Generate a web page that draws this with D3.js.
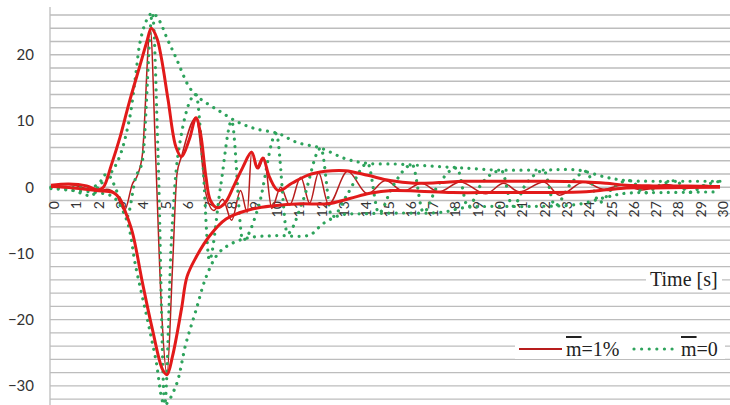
<!DOCTYPE html>
<html>
<head>
<meta charset="utf-8">
<script src="https://cdn.jsdelivr.net/npm/d3@7"></script>
<style>
  html, body { margin: 0; padding: 0; background: #fff; }
  svg { display: block; }
</style>
</head>
<body>
<svg id="chart" width="730" height="405"></svg>
<script>
// ---------- DATA (time [s], response) ----------
const xTickLabels = [0,1,2,3,4,5,6,7,8,9,10,11,12,13,14,15,16,17,18,19,20,21,22,23,24,25,26,27,28,29,30];
const yTickLabels = [20,10,0,-10,-20,-30];
const legendLabels = ["1%", "0"];

// m̄ = 1% : upper envelope
const redUpper = [[0,0.3],[0.8,0.5],[1.6,0.2],[2.1,-0.4],[2.35,0],[2.7,3.3],[3.1,7.6],[3.5,12.7],[4.0,18.5],[4.3,22],[4.5,24],[4.75,22.5],[4.95,19.5],[5.25,13.2],[5.6,6.1],[5.85,4.6],[6.2,7.2],[6.5,10.5],[6.7,8.2],[6.95,1.5],[7.15,-2],[7.45,-3.1],[7.8,-2.4],[8.2,0.2],[8.6,3],[9.0,5.3],[9.25,2.9],[9.5,4.4],[9.8,1.5],[10.2,-0.5],[10.8,0.6],[11.5,1.8],[12.3,2.4],[13.2,2.5],[14.2,1.8],[15.2,1.0],[16.3,0.6],[17.4,0.7],[18.5,0.9],[20,0.9],[22,0.9],[24,0.8],[24.9,0.6],[25.8,0.3],[27,0.2],[28.5,0.2],[30,0.1]];
// m̄ = 1% : lower envelope
const redLower = [[0,0.1],[1,-0.1],[2,-0.5],[2.8,-0.8],[3.1,-1.8],[3.3,-3.4],[3.65,-6.8],[4.1,-14.4],[4.55,-21.5],[5.0,-27.5],[5.2,-28.3],[5.45,-25.5],[5.85,-18.4],[6.1,-13.5],[6.5,-10.6],[7.1,-7.4],[7.85,-4.8],[8.9,-3.4],[10,-2.8],[11.2,-2.5],[12.4,-2.5],[13.4,-1.7],[14.3,-0.9],[15.3,-0.5],[16.5,-0.6],[18,-0.8],[20,-0.8],[22,-0.8],[24,-0.7],[24.9,-0.4],[25.8,-0.1],[27,-0.1],[30,0]];
// m̄ = 1% : time history
const redHistory = [[0,0.3],[0.8,0.4],[1.6,-0.2],[2.2,-0.5],[2.5,-0.3],[2.9,-1],[3.3,-3.5],[3.65,0.5],[3.9,2],[4.1,5],[4.45,24],[4.7,4],[4.95,-18],[5.2,-28.3],[5.45,-12],[5.65,2],[5.85,4.6],[6.5,10.5],[6.95,-1],[7.3,-3.5],[7.7,-1.8],[8.1,-5],[8.5,-0.5],[8.8,-3.8],[9.0,5.3],[9.3,2.8],[9.55,4.5],[9.9,-3.2],[10.3,0],[10.7,-2.7],[11.2,1.5],[11.6,-2.4],[12.0,2.2],[12.45,-2.6],[13.3,2.4],[14.2,-1],[15.0,1.0],[15.8,-0.6],[16.6,0.6],[17.4,-0.7],[18.35,0.8],[19.5,-1.0],[20.3,0.6],[21.0,-0.7],[22.1,0.8],[22.8,-1.2],[23.9,0.8],[24.8,-0.3],[25.6,0.3],[26.5,-0.4],[27.6,0.4],[28.5,-0.2],[29.3,0.3],[30,0]];

// m̄ = 0 : upper envelope
const greenUpper = [[0,0],[1,0],[2,0.2],[2.4,1],[3,4],[3.5,10],[3.8,17],[4.0,22],[4.3,25.3],[4.55,26.3],[4.85,25.2],[5.2,22.5],[5.6,19.6],[6.2,15.1],[6.6,13.6],[7.5,11.6],[8.4,9.8],[9.2,8.8],[10.2,8.1],[11,6.8],[12.1,5.9],[13.2,4.3],[14.2,3.6],[15.5,3.5],[16.5,3.3],[17.5,3.1],[18.5,2.9],[20,2.6],[22,2.6],[23.6,2.6],[24.9,1.5],[25.8,1.0],[27,0.9],[28.5,0.9],[30,0.9]];
// m̄ = 0 : lower envelope
const greenLower = [[0,-0.2],[1,-0.5],[2,-0.8],[2.8,-1.5],[3.4,-5],[3.8,-12],[4.3,-19.6],[4.7,-26],[5.1,-32.8],[5.6,-30],[6.05,-23.6],[6.5,-18.6],[6.95,-13.6],[7.5,-10],[8.1,-8.5],[8.9,-7.6],[10.1,-7.3],[11.6,-7.2],[12.2,-5.5],[13,-4.2],[14,-4],[15.5,-3.9],[17.5,-3.8],[18.5,-3.1],[19.5,-2.9],[21.5,-2.9],[23.6,-2.6],[24.9,-1.5],[25.8,-0.9],[27.5,-0.8],[30,-0.7]];
// m̄ = 0 : time history
const greenHistory = [[0,0],[1,-0.5],[1.8,-1.3],[2.5,2],[3.0,-1],[3.4,-4.5],[3.8,1.5],[4.1,4],[4.55,26.2],[4.8,5],[5.1,-32.8],[5.4,-8],[5.7,5],[6.5,14],[6.8,4],[7.1,-11],[7.6,0],[8.1,10],[8.6,-8],[9.3,-3],[10.1,8.1],[10.6,-7],[11.3,-2],[12.1,5.9],[12.6,-4.5],[13.3,-1],[14.2,3.6],[14.7,-3.9],[15.3,0],[16.2,3.4],[16.7,-3.8],[17.3,0],[18.2,2.9],[18.7,-3],[19.3,0.5],[20.2,2.5],[20.7,-2.9],[21.3,0.5],[22.1,2.5],[22.6,-2.8],[23.3,0.5],[24.0,2.4],[24.6,-2.3],[25.3,0.3],[26,1],[26.6,-0.9],[27.3,0.3],[28,1],[28.6,-0.8],[29.3,0.3],[30,0.9]];

// ---------- DRAWING ----------
const svg = d3.select("#chart");
const W = 730, H = 405;
const x = d3.scaleLinear().domain([0, 30]).range([51, 720]);
const y = d3.scaleLinear().domain([-32, 26]).range([399.2, 15.0]);

const RED = "#e21a1a", RED_DARK = "#b81d1d", GREEN = "#2ea35c", GRID = "#bdbdbd";

// gridlines every 2 units
const gridVals = d3.range(-34, 27, 2);
svg.append("g").selectAll("line").data(gridVals).join("line")
  .attr("x1", 50).attr("x2", W)
  .attr("y1", d => y(d)).attr("y2", d => y(d))
  .attr("stroke", GRID).attr("stroke-width", 1.3);

// vertical axis line
svg.append("line").attr("x1", 50).attr("x2", 50).attr("y1", 7).attr("y2", H)
  .attr("stroke", GRID).attr("stroke-width", 1.3);

// Y axis labels
const yAxis = svg.append("g").attr("transform", "translate(50,0)")
  .call(d3.axisLeft(y).tickValues(yTickLabels).tickSize(0).tickPadding(16).tickFormat(d3.format("d")));
yAxis.select(".domain").remove();
yAxis.selectAll("text").attr("font-family", "Lato, 'Open Sans', sans-serif")
  .attr("font-size", 15).attr("fill", "#333");

// X axis labels (rotated)
const xAxis = svg.append("g").attr("transform", `translate(0,${y(0)})`)
  .call(d3.axisBottom(x).tickValues(xTickLabels).tickSize(0).tickFormat(d3.format("d")));
xAxis.select(".domain").remove();
xAxis.selectAll("text")
  .attr("font-family", "Lato, 'Open Sans', sans-serif").attr("font-size", 14).attr("fill", "#333")
  .attr("y", 2).attr("dy", null).attr("x", -14)
  .attr("transform", "rotate(-90)")
  .attr("text-anchor", "end")
  .attr("dominant-baseline", "central");

const historyLine = d3.line().x(d => x(d[0])).y(d => y(d[1])).curve(d3.curveMonotoneX);
const envLine = d3.line().x(d => x(d[0])).y(d => y(d[1])).curve(d3.curveCatmullRom.alpha(0.5));

// thin red time history
svg.append("path").datum(redHistory).attr("d", historyLine)
  .attr("fill", "none").attr("stroke", RED_DARK).attr("stroke-width", 1.5);

// green dotted series
[[greenHistory, historyLine], [greenUpper, envLine], [greenLower, envLine]].forEach(([s, gen]) => {
  svg.append("path").datum(s).attr("d", gen)
    .attr("fill", "none").attr("stroke", GREEN).attr("stroke-width", 3.2)
    .attr("stroke-linecap", "round").attr("stroke-dasharray", "0.01 7.4");
});

// thick red envelopes
[redUpper, redLower].forEach(s => {
  svg.append("path").datum(s).attr("d", envLine)
    .attr("fill", "none").attr("stroke", RED).attr("stroke-width", 3)
    .attr("stroke-linejoin", "round");
});

// axis title
svg.append("rect").attr("x", 646).attr("y", 270).attr("width", 76).attr("height", 22).attr("fill", "#fff");
svg.append("text").attr("x", 650).attr("y", 286)
  .attr("font-family", "'Liberation Serif', 'Times New Roman', serif").attr("font-size", 20).attr("fill", "#222")
  .text("Time [s]");

// legend
const lg = svg.append("g");
lg.append("rect").attr("x", 515).attr("y", 339).attr("width", 210).attr("height", 20).attr("fill", "#fff");
lg.append("line").attr("x1", 519).attr("x2", 562).attr("y1", 349).attr("y2", 349)
  .attr("stroke", RED_DARK).attr("stroke-width", 2);
lg.append("line").attr("x1", 634).attr("x2", 676).attr("y1", 349).attr("y2", 349)
  .attr("stroke", GREEN).attr("stroke-width", 3.2).attr("stroke-linecap", "round").attr("stroke-dasharray", "0.01 7.6");
const lt1 = lg.append("text").attr("x", 566).attr("y", 356)
  .attr("font-family", "'Liberation Serif', 'Times New Roman', serif").attr("font-size", 20).attr("fill", "#222");
lt1.append("tspan").style("text-decoration", "overline").text("m");
lt1.append("tspan").text("=" + legendLabels[0]);
const lt2 = lg.append("text").attr("x", 681).attr("y", 356)
  .attr("font-family", "'Liberation Serif', 'Times New Roman', serif").attr("font-size", 20).attr("fill", "#222");
lt2.append("tspan").style("text-decoration", "overline").text("m");
lt2.append("tspan").text("=" + legendLabels[1]);
</script>
</body>
</html>
